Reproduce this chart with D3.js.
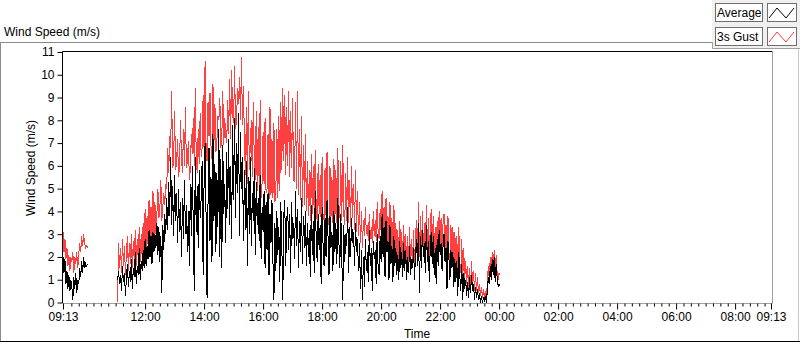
<!DOCTYPE html>
<html>
<head>
<meta charset="utf-8">
<script src="https://cdn.jsdelivr.net/npm/d3@7"></script>
<style>
  html, body { margin: 0; padding: 0; background: #fff; }
  svg { display: block; font-family: "Liberation Sans", Arial, sans-serif; }
</style>
</head>
<body>
<div id="chart"></div>
<script>
// Sampling: one value every 2 minutes, two recorded runs with a gap between.
var stepMinutes = 2;
var startA = '09:13';
var startB = '11:04';

var avgA = [2.0, 1.3, 1.9, 0.8, 1.4, 0.6, 1.2, 0.5, 1.0, 0.7, 0.1, 1.1, 0.6, 1.3, 0.4, 1.0, 0.8, 1.5, 1.1, 1.8,
  1.3, 2.0, 1.5, 1.7, 1.6, 1.7];
var gustA = [3.1, 2.2, 2.8, 1.9, 2.4, 1.6, 2.1, 1.4, 2.0, 1.8, 2.2, 1.3, 2.0, 1.7, 2.2, 1.5, 2.1, 2.6, 2.2, 2.9,
  2.5, 3.0, 2.6, 2.4, 2.5, 2.4];

var avgB = [
  1.0, 1.4, 0.8, 1.2, 0.5, 1.6, 0.9, 1.3, 0.3, 1.1,
  1.7, 0.7, 1.4, 0.9, 1.9, 0.6, 1.5, 1.1, 2.2, 0.8,
  1.6, 1.2, 2.4, 1.0, 1.8, 1.4, 2.3, 1.5, 2.8, 1.6,
  2.5, 1.9, 3.2, 2.0, 2.9, 1.7, 3.1, 2.2, 3.0, 2.4,
  3.5, 2.1, 3.3, 1.8, 2.9, 0.4, 3.4, 2.3, 3.9, 3.0,
  4.6, 3.2, 5.3, 3.8, 6.4, 3.4, 5.1, 2.9, 5.6, 3.6,
  4.8, 2.6, 5.0, 3.1, 4.4, 2.0, 4.6, 2.8, 5.4, 3.0,
  4.3, 2.2, 4.0, 1.6, 5.2, 2.9, 6.0, 3.3, 0.5, 6.4,
  3.1, 5.1, 2.4, 5.8, 3.7, 4.6, 6.2, 1.2, 5.4, 7.0,
  3.8, 0.2, 4.4, 6.8, 2.7, 5.5, 1.8, 7.4, 3.6, 6.1,
  2.2, 5.7, 3.3, 7.6, 2.0, 6.3, 1.5, 6.9, 3.9, 5.2,
  2.6, 6.6, 4.1, 7.2, 3.4, 6.0, 2.8, 7.8, 4.5, 8.1,
  3.7, 7.0, 4.8, 8.3, 2.9, 7.5, 5.0, 6.4, 2.7, 5.8,
  3.2, 6.2, 1.6, 5.5, 3.0, 6.4, 2.5, 4.8, 3.6, 5.9,
  2.1, 5.3, 3.4, 4.6, 2.7, 5.6, 1.9, 4.2, 3.1, 4.9,
  1.5, 4.4, 2.3, 4.8, 1.2, 3.9, 2.6, 4.5, 1.8, 0.1,
  3.5, 1.4, 4.0, 2.1, 3.3, 0.9, 4.4, 2.6, 0.1, 3.8,
  4.5, 1.6, 3.6, 4.2, 2.3, 3.9, 1.3, 4.4, 2.8, 3.5,
  1.9, 4.9, 2.5, 4.1, 1.5, 3.6, 2.2, 4.6, 1.7, 3.8,
  2.4, 4.0, 1.6, 3.5, 2.0, 3.2, 1.1, 4.3, 2.1, 3.6,
  1.3, 4.9, 2.7, 1.8, 3.9, 2.3, 3.4, 0.8, 4.2, 2.5,
  1.6, 3.7, 2.0, 4.5, 2.9, 1.2, 3.8, 2.4, 3.1, 1.4,
  4.0, 2.2, 3.5, 1.7, 4.6, 2.8, 1.5, 3.9, 2.0, 0.1,
  3.4, 1.8, 3.0, 2.5, 4.2, 1.3, 3.3, 2.0, 3.7, 2.6,
  3.1, 1.6, 3.5, 2.2, 2.8, 1.4, 2.6, 0.6, 2.3, 0.1,
  2.0, 0.7, 2.8, 1.4, 2.2, 0.9, 3.2, 1.6, 2.4, 0.5,
  2.7, 1.9, 2.3, 0.8, 3.0, 1.5, 1.2, 2.9, 1.8, 3.9,
  2.0, 3.3, 1.1, 3.6, 2.2, 2.7, 1.0, 3.4, 1.7, 2.5,
  0.9, 2.9, 1.6, 2.4, 1.2, 2.1, 1.0, 2.7, 1.5, 2.2,
  1.1, 2.6, 1.4, 2.3, 1.0, 2.0, 1.3, 2.5, 1.2, 1.9,
  1.5, 2.4, 1.0, 2.1, 2.8, 1.6, 3.5, 0.4, 2.9, 1.5,
  3.2, 2.0, 2.6, 1.3, 3.4, 1.8, 2.7, 0.9, 2.5, 3.1,
  1.7, 2.9, 1.2, 2.4, 0.8, 2.8, 1.6, 3.2, 2.1, 2.6,
  1.4, 2.5, 3.0, 1.8, 2.4, 0.6, 2.7, 1.9, 1.0, 2.3,
  1.5, 2.2, 0.7, 1.9, 0.9, 1.8, 0.3, 2.2, 1.2, 0.5,
  1.7, 0.1, 1.3, 0.6, 1.0, 0.3, 0.9, 0.2, 1.1, 0.4,
  1.2, 0.5, 0.8, 0.1, 0.7, 0.2, 0.6, 0.1, 0.4, 0.0,
  0.3, 0.0, 0.2, 0.1, 0.3, 0.0, 0.5, 1.1, 0.8, 1.6,
  1.0, 1.9, 1.2, 2.0, 0.9, 1.7, 1.1, 0.7, 0.8, 0.7];

var gustB = [
  0.0, 2.6, 1.5, 2.4, 1.3, 2.8, 1.6, 2.5, 1.2, 2.2,
  2.9, 1.4, 2.6, 1.7, 3.0, 1.5, 2.7, 1.8, 3.2, 1.6,
  2.8, 1.9, 3.3, 1.8, 3.0, 2.0, 3.5, 2.1, 4.1, 2.4,
  3.8, 2.5, 4.5, 2.6, 4.2, 2.7, 4.9, 2.8, 4.4, 3.0,
  3.9, 5.0, 3.7, 4.1, 5.4, 3.6, 4.2, 4.8, 4.3, 5.2,
  5.0, 6.8, 5.7, 7.3, 6.8, 9.3, 5.9, 6.2, 8.4, 5.8,
  6.1, 7.2, 5.5, 6.0, 8.0, 6.3, 5.7, 7.6, 6.0, 8.6,
  5.9, 6.2, 7.1, 5.4, 5.8, 7.4, 6.5, 8.1, 6.0, 9.4,
  6.3, 5.7, 7.6, 6.1, 8.3, 6.4, 6.8, 9.1, 6.6, 10.6,
  6.8, 6.2, 8.8, 7.3, 9.2, 6.9, 6.3, 9.6, 7.0, 8.7,
  6.6, 7.1, 8.2, 8.0, 9.0, 6.8, 7.2, 9.3, 6.9, 8.1,
  7.3, 7.0, 8.9, 7.4, 9.8, 7.2, 10.2, 8.2, 7.9, 10.4,
  7.6, 8.0, 9.4, 8.7, 9.9, 8.0, 10.8, 7.8, 9.5, 7.1,
  5.6, 8.6, 5.2, 9.3, 5.8, 6.9, 8.0, 5.5, 8.8, 6.3,
  5.4, 8.4, 4.9, 7.7, 5.1, 8.9, 4.6, 5.3, 7.5, 5.2,
  8.1, 4.8, 5.0, 7.4, 4.5, 8.6, 4.7, 7.2, 4.6, 7.9,
  4.4, 5.0, 7.6, 4.6, 8.2, 4.9, 8.8, 5.8, 9.4, 6.2,
  9.1, 5.6, 8.6, 6.0, 9.3, 5.5, 8.4, 5.9, 9.0, 5.4,
  5.3, 8.8, 5.0, 9.3, 4.7, 7.6, 4.5, 8.2, 4.2, 6.9,
  4.3, 7.4, 4.0, 6.2, 3.8, 5.8, 3.6, 6.5, 3.9, 6.0,
  3.8, 6.7, 4.0, 3.6, 6.1, 3.9, 5.6, 3.5, 6.4, 3.7,
  3.6, 5.9, 3.8, 6.6, 3.7, 3.4, 6.0, 3.7, 5.5, 3.5,
  6.3, 3.6, 5.8, 3.5, 6.8, 3.9, 3.7, 6.2, 3.6, 6.9,
  3.9, 3.4, 5.7, 3.6, 6.4, 3.5, 5.4, 3.3, 6.0, 3.7,
  5.2, 3.2, 5.8, 3.1, 4.9, 2.9, 4.4, 2.6, 4.0, 2.4,
  3.6, 2.9, 4.2, 3.0, 3.4, 2.7, 3.9, 2.8, 3.3, 2.6,
  4.0, 2.9, 3.6, 2.7, 4.4, 3.0, 2.8, 4.1, 3.1, 4.9,
  2.4, 4.2, 1.8, 4.6, 2.5, 3.8, 1.9, 4.4, 2.2, 3.7,
  1.7, 4.3, 2.1, 3.5, 1.8, 3.2, 1.6, 3.6, 1.9, 3.1,
  1.6, 3.4, 1.8, 3.0, 1.4, 2.9, 1.7, 3.3, 1.5, 2.8,
  1.8, 3.2, 1.4, 2.9, 3.6, 2.0, 4.4, 2.0, 3.8, 1.9,
  4.0, 2.3, 3.5, 1.9, 4.3, 2.1, 3.7, 1.7, 3.4, 4.1,
  2.2, 3.8, 1.8, 3.3, 1.6, 3.6, 2.0, 4.0, 2.4, 3.7,
  1.9, 3.5, 3.9, 2.1, 3.4, 1.6, 3.8, 2.2, 1.8, 3.4,
  2.0, 3.3, 1.5, 3.1, 1.5, 2.9, 1.2, 3.3, 1.7, 1.3,
  2.8, 1.0, 2.4, 1.0, 1.8, 0.8, 1.6, 0.6, 1.5, 0.7,
  1.8, 0.8, 1.4, 0.5, 1.3, 0.5, 1.1, 0.4, 0.8, 0.3,
  0.7, 0.2, 0.6, 0.2, 0.5, 0.2, 0.8, 1.6, 1.0, 2.0,
  1.2, 2.2, 1.4, 2.3, 1.1, 2.1, 1.3, 1.0, 1.3, 1.2];

// Axis: a full day, from 09:13 to 09:13 the next day.
var axisStart = '09:13';
var axisHours = 24;
var yTicks = [0, 1, 2, 3, 4, 5, 6, 7, 8, 9, 10, 11];
var seriesNames = ['Average', '3s Gust'];
var seriesColors = ['#000000', '#ff4040'];

var width = 800, height = 342;
var plot = { left: 62, top: 51, right: 772, bottom: 303 };

var parseTime = d3.timeParse('%Y-%m-%d %H:%M');
var t0 = parseTime('2000-01-01 ' + axisStart);
var t1 = d3.timeHour.offset(t0, axisHours);

function toPoints(start, values) {
  var s = parseTime('2000-01-01 ' + start);
  return values.map(function (v, i) {
    return { t: d3.timeMinute.offset(s, i * stepMinutes), v: v };
  });
}

var series = [
  [toPoints(startA, avgA), toPoints(startB, avgB)],
  [toPoints(startA, gustA), toPoints(startB, gustB)]
];

var x = d3.scaleTime().domain([t0, t1]).range([plot.left + 1, plot.right - 1]);
var y = d3.scaleLinear().domain([0, 11]).range([plot.bottom - 0.5, plot.top + 1]);

var svg = d3.select('#chart').append('svg')
  .attr('width', width)
  .attr('height', height);

// Outer panel lines.
svg.append('line').attr('x1', 0).attr('x2', 712).attr('y1', 42.5).attr('y2', 42.5)
  .attr('stroke', '#8a8a8a');
svg.append('line').attr('x1', 0.5).attr('x2', 0.5).attr('y1', 42).attr('y2', 342)
  .attr('stroke', '#8a8a8a');
svg.append('line').attr('x1', 0).attr('x2', 800).attr('y1', 341.5).attr('y2', 341.5)
  .attr('stroke', '#000');
svg.append('line').attr('x1', 798.5).attr('x2', 798.5).attr('y1', 49).attr('y2', 341)
  .attr('stroke', '#c8c8c8');

// Legend panel.
var legend = svg.append('g');
legend.append('rect').attr('x', 712).attr('y', 0).attr('width', 88).attr('height', 49)
  .attr('fill', '#f0f0f0');
legend.append('path').attr('d', 'M712.5,42 V48.5 H800').attr('fill', 'none').attr('stroke', '#a0a0a0');

seriesNames.forEach(function (name, i) {
  var top = 3 + i * 24;
  var row = legend.append('g');
  row.append('rect').attr('x', 715.5).attr('y', top + 0.5).attr('width', 47).attr('height', 18)
    .attr('fill', '#fff').attr('stroke', '#6e6e6e');
  row.append('text').attr('x', 717).attr('y', top + 14)
    .attr('font-size', 12).attr('fill', '#000').text(name);
  row.append('rect').attr('x', 767.5).attr('y', top + 0.5).attr('width', 29).attr('height', 18)
    .attr('fill', '#fff').attr('stroke', '#6e6e6e');
  row.append('path')
    .attr('d', 'M769,' + (top + 15) + ' L777,' + (top + 5) + ' L786,' + (top + 15) + ' L794,' + (top + 5))
    .attr('fill', 'none').attr('stroke', seriesColors[i]).attr('stroke-width', 1);
});

// Chart caption.
svg.append('text').attr('x', 4).attr('y', 36)
  .attr('font-size', 12).attr('fill', '#000').text('Wind Speed (m/s)');

// Plot area.
svg.append('clipPath').attr('id', 'clip').append('rect')
  .attr('x', plot.left).attr('y', plot.top)
  .attr('width', plot.right - plot.left).attr('height', plot.bottom - plot.top);

var line = d3.line()
  .x(function (d) { return x(d.t); })
  .y(function (d) { return y(d.v); });

var lines = svg.append('g').attr('clip-path', 'url(#clip)');
[1, 0].forEach(function (k) {
  series[k].forEach(function (seg) {
    lines.append('path')
      .datum(seg)
      .attr('d', line)
      .attr('fill', 'none')
      .attr('stroke', seriesColors[k])
      .attr('stroke-width', 1)
      .attr('shape-rendering', 'crispEdges');
  });
});

// Plot frame: dark top/left, grey bottom/right.
svg.append('path')
  .attr('d', 'M' + (plot.left + 0.5) + ',' + plot.bottom + ' V' + (plot.top + 0.5) + ' H' + (plot.right + 0.5))
  .attr('fill', 'none').attr('stroke', '#000');
svg.append('path')
  .attr('d', 'M' + (plot.right + 0.5) + ',' + (plot.top + 0.5) + ' V' + (plot.bottom + 0.5) + ' H' + (plot.left + 0.5))
  .attr('fill', 'none').attr('stroke', '#a0a0a0');

// Y axis.
var yAxis = d3.axisLeft(y).tickValues(yTicks).tickSize(5).tickPadding(3).tickFormat(d3.format('d'));
var gy = svg.append('g').attr('transform', 'translate(' + (plot.left + 0.5) + ',0)').call(yAxis);
gy.select('.domain').remove();
gy.selectAll('.tick line').attr('stroke', '#000');
gy.selectAll('.tick text').attr('font-size', 12).attr('fill', '#000')
  .attr('font-family', '"Liberation Sans", Arial, sans-serif');

// X axis: labelled ticks every 2 h (not too close to the ends) plus both ends, minor ticks every 15 min.
var inner = d3.timeHour.every(2).range(d3.timeMinute.offset(t0, 60), d3.timeMinute.offset(t1, -60));
var majorTicks = [t0].concat(inner, [t1]);
var minorTicks = d3.timeMinute.every(15).range(t0, t1).filter(function (t) {
  return !majorTicks.some(function (m) { return Math.abs(x(m) - x(t)) < 3; });
});

var fmt = d3.timeFormat('%H:%M');
var xMinor = d3.axisBottom(x).tickValues(minorTicks).tickSize(3).tickFormat('');
var gxm = svg.append('g').attr('transform', 'translate(0,' + (plot.bottom + 0.5) + ')').call(xMinor);
gxm.select('.domain').remove();
gxm.selectAll('.tick line').attr('stroke', '#000');

var xAxis = d3.axisBottom(x).tickValues(majorTicks).tickSize(6).tickPadding(3).tickFormat(fmt);
var gx = svg.append('g').attr('transform', 'translate(0,' + (plot.bottom + 0.5) + ')').call(xAxis);
gx.select('.domain').remove();
gx.selectAll('.tick line').attr('stroke', '#000');
gx.selectAll('.tick text').attr('font-size', 12).attr('fill', '#000')
  .attr('font-family', '"Liberation Sans", Arial, sans-serif');

// Axis titles.
svg.append('text')
  .attr('x', (plot.left + plot.right) / 2).attr('y', 338)
  .attr('text-anchor', 'middle').attr('font-size', 12).attr('fill', '#000')
  .text('Time');
svg.append('text')
  .attr('transform', 'translate(35,' + 168 + ') rotate(-90)')
  .attr('text-anchor', 'middle').attr('font-size', 12).attr('fill', '#000')
  .text('Wind Speed (m/s)');
</script>
</body>
</html>
